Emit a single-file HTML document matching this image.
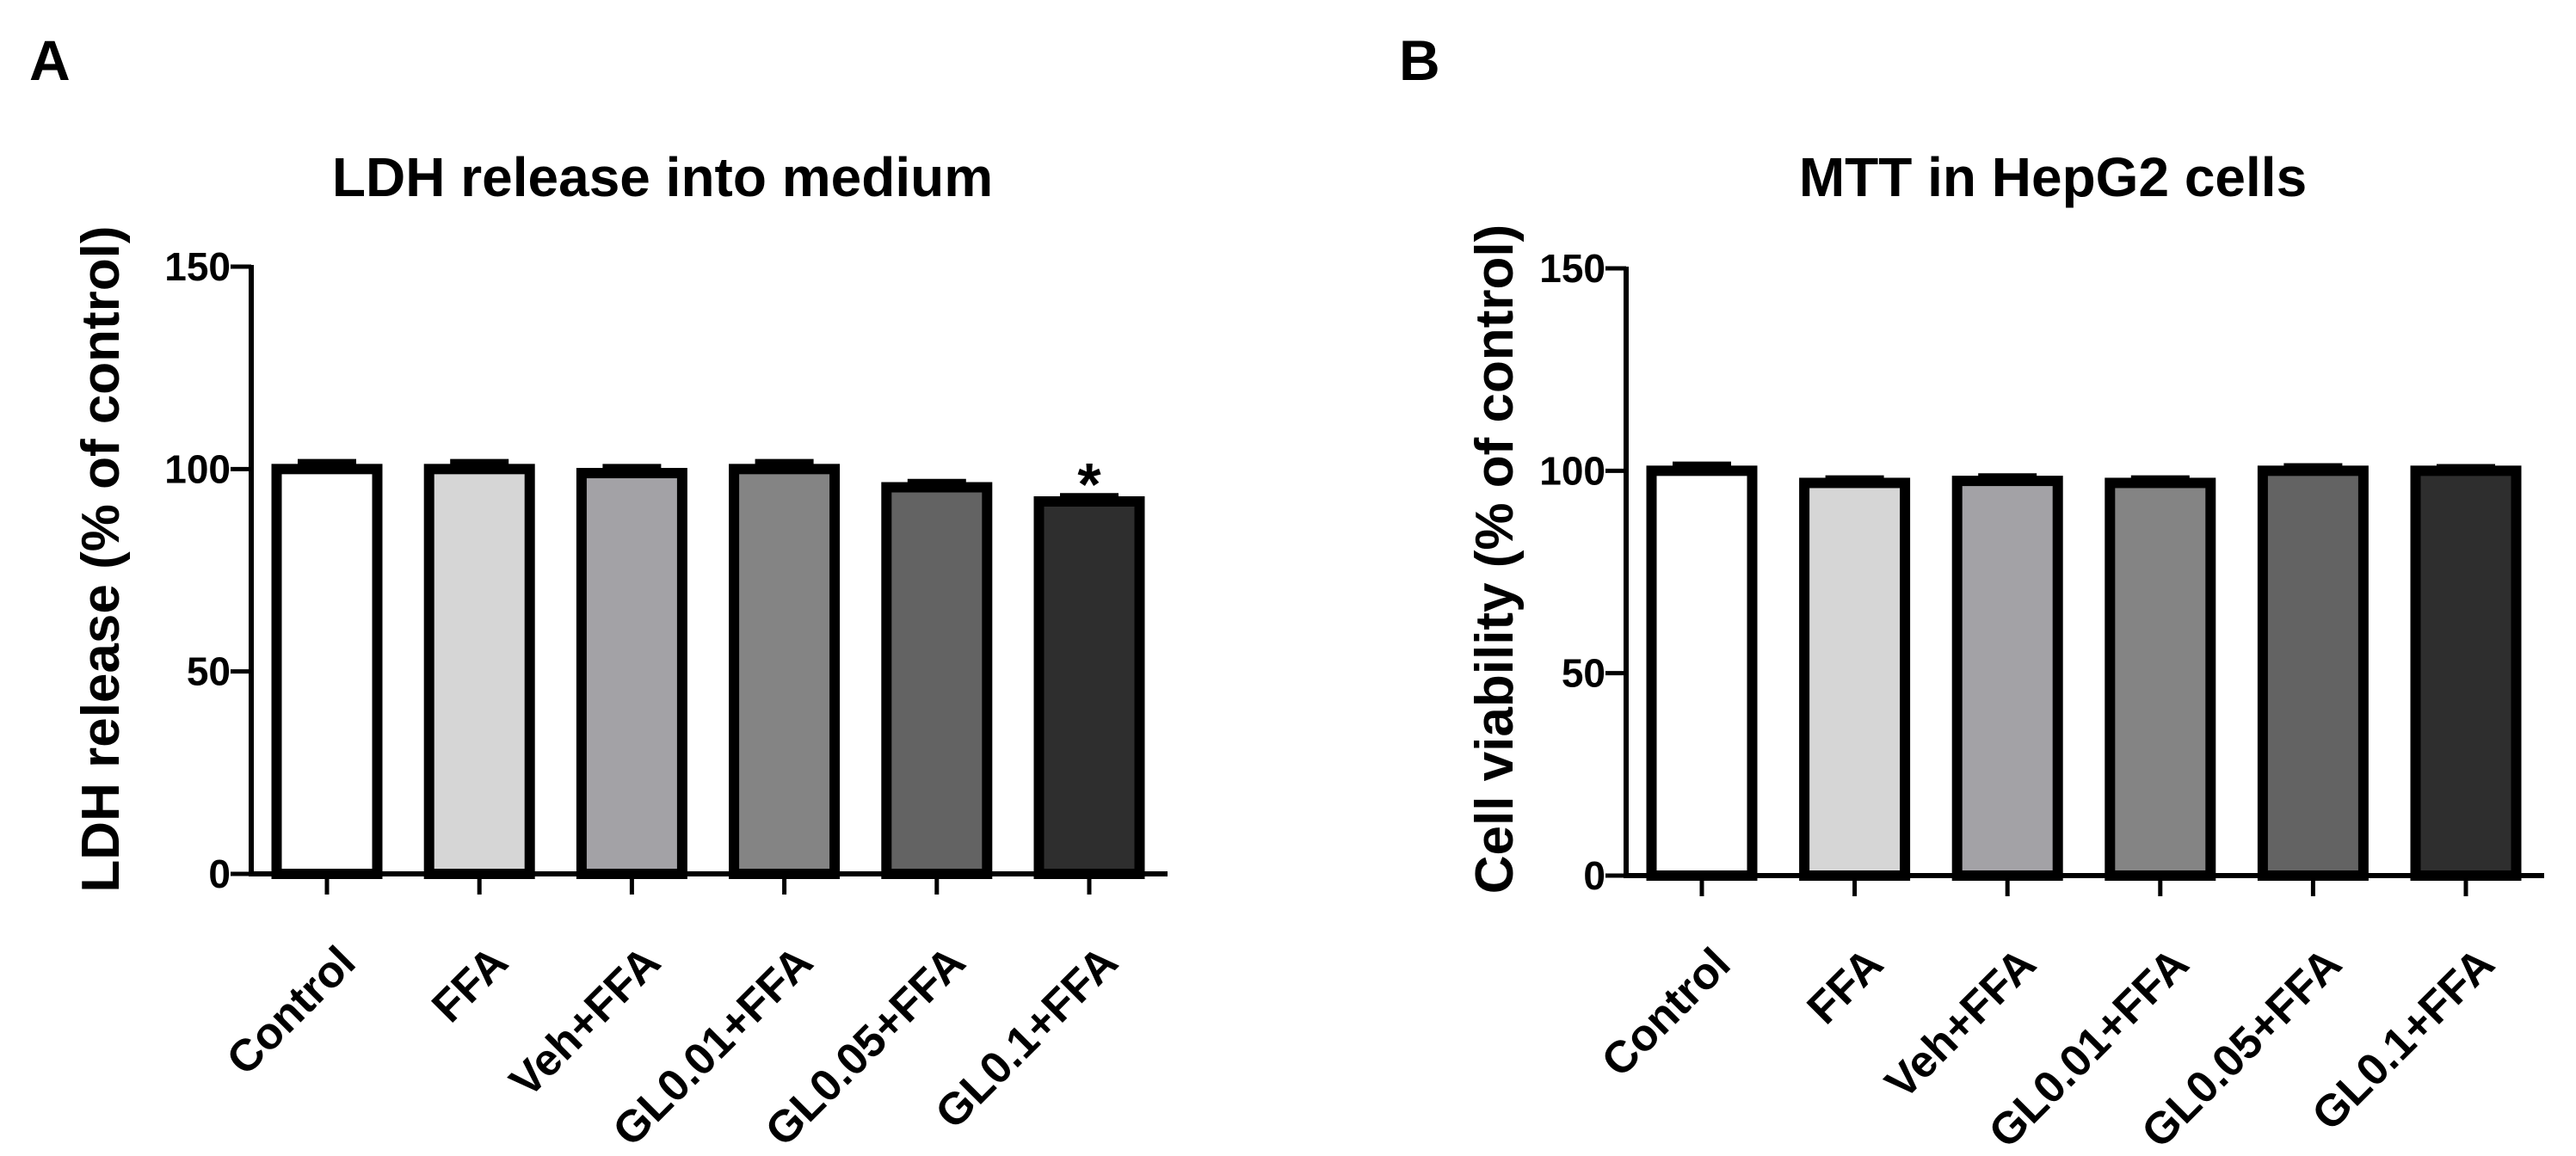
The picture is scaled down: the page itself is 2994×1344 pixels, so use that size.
<!DOCTYPE html>
<html><head><meta charset="utf-8"><style>
html,body{margin:0;padding:0;background:#fff}
svg{display:block;font-family:"Liberation Sans",Arial,sans-serif;font-weight:bold}
</style></head><body>
<svg id="fig" width="2994" height="1344" viewBox="0 0 2994 1344" xmlns="http://www.w3.org/2000/svg">
<rect width="2994" height="1344" fill="#fff"/>
<text x="34" y="93" font-size="66">A</text>
<text x="1626" y="93" font-size="66">B</text>
</svg>
<script>
const categories = ["Control","FFA","Veh+FFA","GL0.01+FFA","GL0.05+FFA","GL0.1+FFA"];
const ldhValues = [100, 100, 99, 100, 95.5, 92];
const ldhErrors = [1.2, 1.2, 1.0, 1.2, 0.8, 0.8];
const mttValues = [100, 97, 97.5, 97, 100, 100];
const mttErrors = [1.0, 0.6, 0.6, 0.6, 0.6, 0.4];
const yTicks = [0, 50, 100, 150];
const fills = ["#ffffff","#d6d6d6","#a3a2a6","#848484","#636363","#2e2e2e"];
const ldhStars = ["","","","","","*"];

const NS="http://www.w3.org/2000/svg";
const svg=document.getElementById('fig');
function mk(tag,attrs,parent){const e=document.createElementNS(NS,tag);for(const k in attrs)e.setAttribute(k,attrs[k]);(parent||svg).appendChild(e);return e;}

function panel(cfg){
  const g=mk('g',{});
  
  
  const y=v=>cfg.y0-(v/150)*(cfg.y0-cfg.y150);
  const n=categories.length;
  const x=i=>cfg.xFirst+i*(cfg.xLast-cfg.xFirst)/(n-1);
  const t=mk('text',{x:cfg.titleX,y:228,'font-size':64,'text-anchor':'middle'},g);
  t.textContent=cfg.title;
  
  
  const yt=mk('text',{x:0,y:0,'font-size':62,'text-anchor':'middle',transform:`translate(${cfg.ytitleX},650) rotate(-90)`},g);
  yt.textContent=cfg.ytitle;
  
  
  cfg.values.forEach((v,i)=>{
    const bw=117;
    const b=mk('rect',{x:x(i)-bw/2,y:y(v),width:bw,height:cfg.y0-y(v),fill:fills[i],stroke:'#000','stroke-width':12},g);
    
    
    const e=cfg.errors[i];
    const eb=mk('line',{x1:x(i)-34,x2:x(i)+34,y1:y(v+e)-2,y2:y(v+e)-2,stroke:'#000','stroke-width':8},g);
    
    
    mk('line',{x1:x(i),x2:x(i),y1:y(v+e),y2:y(v),stroke:'#000','stroke-width':5},g);
    if(cfg.stars && cfg.stars[i]){
      const s=mk('text',{x:x(i),y:y(v+e)+8,'font-size':70,'text-anchor':'middle'},g);
      s.textContent=cfg.stars[i];
      
      
    }
    mk('line',{x1:x(i),x2:x(i),y1:cfg.y0,y2:cfg.y0+24,stroke:'#000','stroke-width':5},g);
    const lbl=mk('text',{x:0,y:0,'font-size':52,'text-anchor':'end',transform:`translate(${x(i)+36},${cfg.y0+106}) rotate(-45)`},g);
    lbl.textContent=categories[i];
    
    
  });
  const ya=mk('line',{x1:cfg.axisX,x2:cfg.axisX,y1:cfg.y150-2,y2:cfg.y0+2,stroke:'#000','stroke-width':6},g);
  
  
  const xa=mk('line',{x1:cfg.axisX-3,x2:cfg.axisEnd,y1:cfg.y0,y2:cfg.y0,stroke:'#000','stroke-width':6},g);
  
  
  yTicks.forEach(v=>{
    mk('line',{x1:cfg.axisX-24,x2:cfg.axisX,y1:y(v),y2:y(v),stroke:'#000','stroke-width':5},g);
    const tl=mk('text',{x:cfg.axisX-24,y:y(v)+16,'font-size':46,'text-anchor':'end'},g);
    tl.textContent=v;
    
    
  });
}
panel({name:'ldh-chart',title:'LDH release into medium',ytitle:'LDH release (% of control)',titleX:770,ytitleX:138,
  axisX:292,axisEnd:1357,y0:1016,y150:310,xFirst:380,xLast:1266,values:ldhValues,errors:ldhErrors,stars:ldhStars});
panel({name:'mtt-chart',title:'MTT in HepG2 cells',ytitle:'Cell viability (% of control)',titleX:2386,ytitleX:1758,
  axisX:1890,axisEnd:2957,y0:1018,y150:312,xFirst:1978,xLast:2866,values:mttValues,errors:mttErrors,stars:null});
</script>
</body></html>
